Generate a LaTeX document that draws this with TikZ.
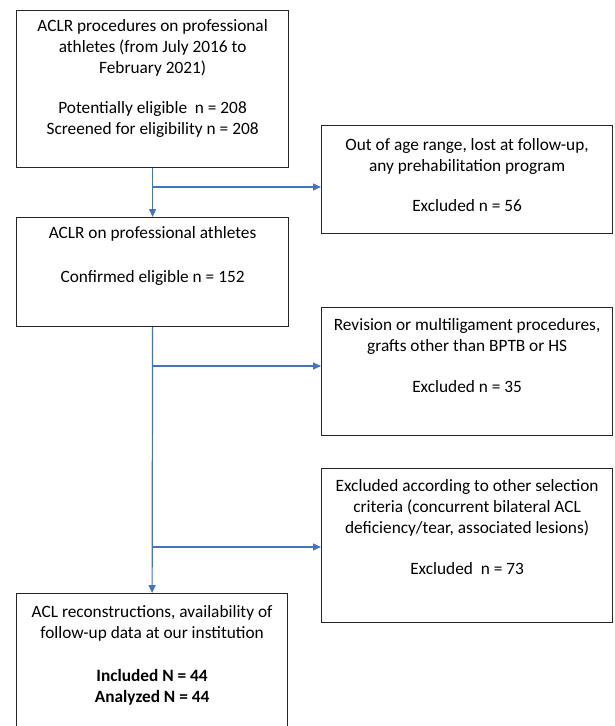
\documentclass[tikz,border=0pt]{standalone}
\usepackage{fontspec}
\setmainfont{Carlito}
\usetikzlibrary{arrows.meta}
\definecolor{arrowblue}{HTML}{4472C4}
\begin{document}
\begin{tikzpicture}[x=1pt,y=-1pt,
  box/.style={draw=black!85, line width=1.2pt, inner sep=0, anchor=north west},
  txt/.style={anchor=north, inner sep=0, align=center, font=\fontsize{17.3}{21}\selectfont},
  flow/.style={draw=arrowblue, line width=1.2pt},
  arr/.style={flow, -{Triangle[length=8pt,width=7pt]}}]
\useasboundingbox (0,0) rectangle (614,726);
\clip (0,0) rectangle (614,726);
% boxes
\node[box, minimum width=272, minimum height=157] (b1) at (16,10) {};
\node[box, minimum width=272, minimum height=109] (b2) at (16,217) {};
\node[box, minimum width=271, minimum height=150] (b3) at (16,593) {};
\node[box, minimum width=291, minimum height=108] (e1) at (321,125) {};
\node[box, minimum width=291, minimum height=128] (e2) at (321,307) {};
\node[box, minimum width=291, minimum height=154] (e3) at (321,468) {};
% texts
\node[txt] (t1) at ([yshift=-7pt]b1.north) {\strut ACLR procedures on professional\\athletes (from July 2016 to\\February 2021)\\[19pt]Potentially eligible\ \ n = 208\\Screened for eligibility n = 208};
\node[txt] (t2) at ([yshift=-6.6pt]b2.north) {\strut ACLR on professional athletes\\[23pt]Confirmed eligible n = 152};
\node[txt] (t3) at ([yshift=-9.6pt]b3.north) {\strut ACL reconstructions, availability of\\follow-up data at our institution\\[22pt]\textbf{Included N = 44}\\\textbf{Analyzed N = 44}};
\node[txt] (te1) at ([yshift=-10.6pt]e1.north) {\strut Out of age range, lost at follow-up,\\any prehabilitation program\\[19pt]Excluded n = 56};
\node[txt] (te2) at ([yshift=-8.6pt]e2.north) {\strut Revision or multiligament procedures,\\grafts other than BPTB or HS\\[20pt]Excluded n = 35};
\node[txt] (te3) at ([yshift=-8.8pt]e3.north) {\strut Excluded according to other selection\\criteria (concurrent bilateral ACL\\deficiency/tear, associated lesions)\\[20pt]Excluded\ \ n = 73};
% connectors
\coordinate (j1) at (152,187);
\coordinate (j2) at (152,366);
\coordinate (j3) at (152,547);
\draw[arr] (b1.south) -- (b2.north);
\draw[arr] (j1) -- (j1 -| e1.west);
\draw[arr] (b2.south) -- (b3.north);
\draw[arr] (j2) -- (j2 -| e2.west);
\draw[arr] (j3) -- (j3 -| e3.west);
\end{tikzpicture}
\end{document}
